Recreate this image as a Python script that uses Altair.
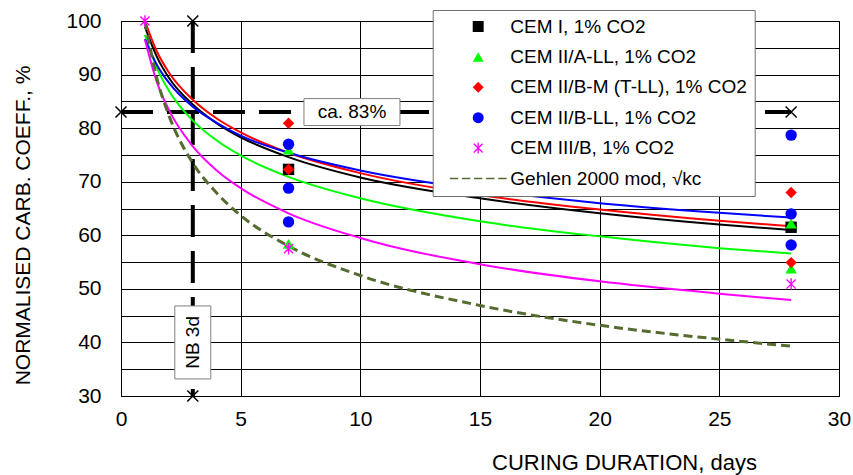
import altair as alt
import pandas as pd

FONT = "Liberation Sans, Arial, sans-serif"

SERIES = [
    "CEM I, 1% CO2",
    "CEM II/A-LL, 1% CO2",
    "CEM II/B-M (T-LL), 1% CO2",
    "CEM II/B-LL, 1% CO2",
    "CEM III/B, 1% CO2",
    "Gehlen 2000 mod, √kc",
]
COLORS = ["#000000", "#00ff00", "#ff0000", "#0000ff", "#ff00ff", "#566b30"]

# custom symbols: six-armed asterisk and a dashed stroke for the model curve
ASTERISK = (
    "M-0.12,-1L0.12,-1L0.12,1L-0.12,1Z "
    "M-0.72,-0.89L0.89,0.72L0.72,0.89L-0.89,-0.72Z "
    "M0.72,-0.89L0.89,-0.72L-0.72,0.89L-0.89,0.72Z"
)
DASHES = (
    "M-5.18,-0.14L-3.65,-0.14L-3.65,0.14L-5.18,0.14Z "
    "M-2.97,-0.14L-1.44,-0.14L-1.44,0.14L-2.97,0.14Z "
    "M-0.76,-0.14L0.76,-0.14L0.76,0.14L-0.76,0.14Z "
    "M1.44,-0.14L2.97,-0.14L2.97,0.14L1.44,0.14Z "
    "M3.65,-0.14L5.18,-0.14L5.18,0.14L3.65,0.14Z"
)
SHAPES = ["square", "triangle-up", "diamond", "circle", ASTERISK, DASHES]
CROSS = "M-1,-1L1,1M1,-1L-1,1"
WIDE_BOX = "M-1,-0.281L1,-0.281L1,0.281L-1,0.281Z"
TALL_BOX = "M-0.493,-1L0.493,-1L0.493,1L-0.493,1Z"

# fitted curves, tabulated at these curing durations (days)
fit_days = [1, 1.5, 2, 3, 4, 5, 7, 10, 15, 20, 25, 28]
fit_cem1 = [98.9, 93.3, 89.4, 84.4, 80.9, 78.3, 74.6, 70.8, 66.9, 64.1, 62.0, 61.0]
fit_cem2a = [97.4, 91.2, 87.0, 81.4, 77.7, 74.9, 70.9, 66.9, 62.6, 59.8, 57.6, 56.6]
fit_cem2bm = [100.0, 94.3, 90.4, 85.3, 81.8, 79.2, 75.4, 71.6, 67.5, 64.8, 62.7, 61.7]
fit_cem2bll = [96.6, 91.8, 88.5, 84.0, 81.0, 78.6, 75.4, 72.1, 68.5, 66.0, 64.2, 63.3]
fit_cem3b = [96.5, 88.6, 83.4, 76.6, 72.1, 68.8, 64.1, 59.5, 54.6, 51.4, 49.1, 47.9]
gehlen_curve = [100.0, 89.3, 82.4, 73.5, 67.9, 63.7, 58.0, 52.5, 46.9, 43.2, 40.6, 39.3]

# measured normalised coefficients
pts_cem1_days = [7, 28]
pts_cem1 = [72.3, 61.5]
pts_cem2a_days = [7, 7, 28, 28]
pts_cem2a = [76.0, 58.4, 62.2, 53.8]
pts_cem2bm_days = [7, 7, 28, 28]
pts_cem2bm = [80.9, 72.3, 68.0, 54.9]
pts_cem2bll_days = [7, 7, 7, 28, 28, 28]
pts_cem2bll = [77.0, 68.8, 62.5, 78.7, 64.0, 58.2]
pts_cem3b_days = [1, 7, 28]
pts_cem3b = [100.0, 57.5, 50.9]

# reference markers
level_value = 83
level_days = [0, 28]
level_label_day = 9.65
nb_day = 3
nb_range = [100, 30]
nb_label_value = 40

fit_lists = [fit_cem1, fit_cem2a, fit_cem2bm, fit_cem2bll, fit_cem3b, gehlen_curve]
curve_dfs = [
    pd.DataFrame({"series": SERIES[i], "day": fit_days, "value": vals})
    for i, vals in enumerate(fit_lists)
]

pt_lists = [
    (pts_cem1_days, pts_cem1),
    (pts_cem2a_days, pts_cem2a),
    (pts_cem2bm_days, pts_cem2bm),
    (pts_cem2bll_days, pts_cem2bll),
    (pts_cem3b_days, pts_cem3b),
]
points_df = pd.DataFrame(
    [
        {"series": SERIES[i], "day": d, "value": v}
        for i, (days, vals) in enumerate(pt_lists)
        for d, v in zip(days, vals)
    ]
)

hline_df = pd.DataFrame({"day": [level_days[0]], "day2": [level_days[1]], "value": [level_value]})
vline_df = pd.DataFrame({"day": [nb_day], "value": [nb_range[0]], "value2": [nb_range[1]]})
cross_df = pd.DataFrame(
    {
        "day": [level_days[0], level_days[1], nb_day, nb_day],
        "value": [level_value, level_value, nb_range[0], nb_range[1]],
    }
)
level_df = pd.DataFrame({"day": [level_label_day], "value": [level_value], "text": ["ca. 83%"]})
nb_df = pd.DataFrame({"day": [nb_day], "value": [nb_label_value], "text": ["NB 3d"]})

x_scale = alt.Scale(domain=[0, 30], nice=False, zero=False)
y_scale = alt.Scale(domain=[30, 100], nice=False, zero=False)
color_scale = alt.Scale(domain=SERIES, range=COLORS)
shape_scale = alt.Scale(domain=SERIES, range=SHAPES)

x_axis = alt.Axis(
    values=[0, 5, 10, 15, 20, 25, 30],
    grid=True, gridColor="#000000", gridWidth=1, gridOpacity=1,
    domain=False, ticks=False,
    labelFont=FONT, labelFontSize=21, labelColor="#000000", labelPadding=12,
    labelFlush=False, labelOverlap=False,
    title="CURING DURATION, days", titleFont=FONT, titleFontSize=22,
    titleFontWeight="normal", titleColor="#000000",
    titleX=503, titleY=66, titleAlign="center", titleBaseline="middle",
)
y_axis = alt.Axis(
    values=[30, 35, 40, 45, 50, 55, 60, 65, 70, 75, 80, 85, 90, 95, 100],
    labelExpr="datum.value % 10 == 0 ? datum.label : ''",
    grid=True, gridColor="#000000", gridWidth=1, gridOpacity=1,
    domain=False, ticks=False,
    labelFont=FONT, labelFontSize=21, labelColor="#000000", labelPadding=20,
    labelFlush=False, labelOverlap=False,
    title="NORMALISED CARB. COEFF., %", titleFont=FONT, titleFontSize=21,
    titleFontWeight="normal", titleColor="#000000",
    titleAngle=270, titleX=-98, titleY=204, titleAlign="center", titleBaseline="middle",
)


def xy():
    return dict(
        x=alt.X("day:Q", scale=x_scale, axis=x_axis),
        y=alt.Y("value:Q", scale=y_scale, axis=y_axis),
    )


legend = alt.Legend(
    title=None, orient="none", direction="vertical",
    legendX=311.7, legendY=-11, padding=7, rowPadding=10.4,
    symbolOffset=29, labelOffset=22.6, symbolSize=120, symbolOpacity=1,
    symbolStrokeWidth=0, labelFont=FONT, labelFontSize=19, labelColor="#000000",
    labelLimit=400, fillColor="#ffffff", strokeColor="#707070", cornerRadius=0,
)

hline = alt.Chart(hline_df).mark_rule(
    color="#000000", strokeWidth=4, strokeDash=[32, 14]
).encode(**xy(), x2="day2:Q")

vline = alt.Chart(vline_df).mark_rule(
    color="#000000", strokeWidth=4, strokeDash=[32, 14]
).encode(**xy(), y2="value2:Q")

# one line layer per curve, coloured like its series
curves = []
for i, cdf in enumerate(curve_dfs):
    if i < 5:
        mark = alt.Chart(cdf).mark_line(
            color=COLORS[i], strokeWidth=2, interpolate="monotone"
        )
    else:
        mark = alt.Chart(cdf).mark_line(
            color=COLORS[i], strokeWidth=3, strokeDash=[9, 5], interpolate="monotone"
        )
    curves.append(mark.encode(**xy()))

points = alt.Chart(points_df).mark_point(
    filled=True, opacity=1, size=130, strokeWidth=0
).encode(
    **xy(),
    color=alt.Color("series:N", scale=color_scale, legend=legend),
    shape=alt.Shape("series:N", scale=shape_scale, legend=legend),
)

level_box = alt.Chart(level_df).mark_point(
    shape=WIDE_BOX, size=9216, filled=True, fill="#ffffff", stroke="#808080",
    strokeWidth=1, opacity=1,
).encode(**xy())
level_text = alt.Chart(level_df).mark_text(
    font=FONT, fontSize=19, color="#000000"
).encode(**xy(), text="text:N")

nb_box = alt.Chart(nb_df).mark_point(
    shape=TALL_BOX, size=5329, filled=True, fill="#ffffff", stroke="#808080",
    strokeWidth=1, opacity=1,
).encode(**xy())
nb_text = alt.Chart(nb_df).mark_text(
    font=FONT, fontSize=19, color="#000000", angle=270
).encode(**xy(), text="text:N")

crosses = alt.Chart(cross_df).mark_point(
    shape=CROSS, size=121, filled=False, color="#000000", strokeWidth=1.5, opacity=1
).encode(**xy())

chart = alt.layer(
    hline, vline, *curves, points, level_box, level_text, nb_box, nb_text, crosses
).properties(
    width=718,
    height=375,
    padding={"left": 121, "top": 21, "right": 14, "bottom": 79},
    autosize=alt.AutoSizeParams(type="none"),
    background="#ffffff",
).configure_view(stroke="#000000", strokeWidth=1)

chart.save("out.html", embed_options={"renderer": "svg", "actions": False})
